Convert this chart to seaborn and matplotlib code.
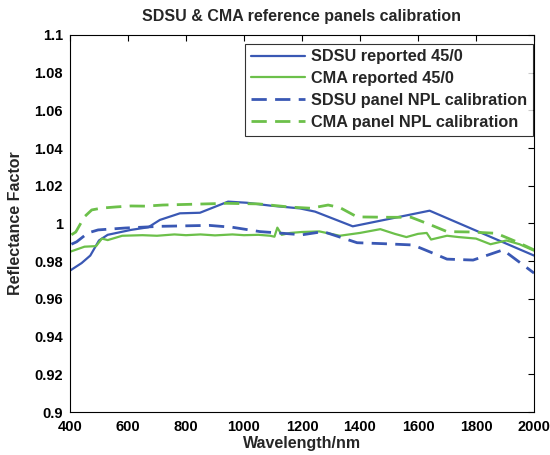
import matplotlib
matplotlib.use("Agg")
import matplotlib.pyplot as plt
import seaborn as sns
import pandas as pd
from matplotlib.ticker import FuncFormatter, MultipleLocator

# ---- data ----
sdsu_rep_wl = [400, 440, 470, 500, 530, 610, 670, 710, 779, 848, 945, 1010, 1090, 1193, 1245, 1375, 1640, 2000]
sdsu_rep_val = [0.975, 0.979, 0.983, 0.991, 0.994, 0.9966, 0.998, 1.0019, 1.0054, 1.0057, 1.0116, 1.011, 1.0095, 1.008, 1.0063, 0.9985, 1.0068, 0.983]

cma_rep_wl = [400, 450, 490, 510, 530, 580, 650, 700, 760, 800, 850, 900, 960, 1000, 1050, 1090, 1105, 1115, 1130,
              1160, 1200, 1260, 1330, 1400, 1470, 1520, 1560, 1600, 1630, 1645, 1700, 1740, 1800, 1850, 1905, 1950, 2000]
cma_rep_val = [0.985, 0.9877, 0.988, 0.992, 0.9912, 0.9935, 0.9938, 0.9935, 0.9942, 0.9938, 0.9942, 0.9937, 0.9942,
               0.9938, 0.994, 0.9935, 0.993, 0.9978, 0.994, 0.995, 0.9955, 0.9958, 0.9935, 0.995, 0.997, 0.9945,
               0.9928, 0.9945, 0.995, 0.9915, 0.9935, 0.9928, 0.992, 0.989, 0.991, 0.989, 0.9856]

sdsu_npl_wl = [405, 423, 462, 497, 590, 710, 880, 960, 1055, 1134, 1200, 1273, 1390, 1480, 1583, 1640, 1700, 1790, 1893, 2000]
sdsu_npl_val = [0.989, 0.9903, 0.995, 0.9966, 0.9976, 0.9985, 0.999, 0.998, 0.9957, 0.9948, 0.994, 0.9957, 0.9898,
                0.9893, 0.9886, 0.985, 0.9811, 0.9806, 0.986, 0.9737]

cma_npl_wl = [405, 420, 450, 475, 510, 560, 610, 660, 720, 820, 940, 1050, 1160, 1230, 1290, 1330, 1390, 1500, 1576,
              1640, 1700, 1780, 1870, 1940, 2000]
cma_npl_val = [0.994, 0.9955, 1.0036, 1.0072, 1.0082, 1.0088, 1.0093, 1.0092, 1.0098, 1.0102, 1.0107, 1.0104, 1.0087,
               1.0081, 1.0098, 1.0085, 1.0035, 1.0033, 1.0033, 0.9995, 0.9957, 0.9955, 0.9948, 0.9903, 0.986]

labels = ["SDSU reported 45/0", "CMA reported 45/0", "SDSU panel NPL calibration", "CMA panel NPL calibration"]
x_ticks = [400, 600, 800, 1000, 1200, 1400, 1600, 1800, 2000]

# ---- style ----
sns.set_style("white")
plt.rcParams["font.family"] = ["Liberation Sans", "DejaVu Sans"]
plt.rcParams["font.weight"] = "bold"

BLUE = "#3a58b4"
GREEN = "#6cc04a"

fig = plt.figure(figsize=(5.5, 4.55), dpi=100)
ax = fig.add_axes([70 / 550, (455 - 412) / 455, (534 - 70) / 550, (412 - 35) / 455])

series = [
    (sdsu_rep_wl, sdsu_rep_val, BLUE, "-", 1.6),
    (cma_rep_wl, cma_rep_val, GREEN, "-", 1.6),
    (sdsu_npl_wl, sdsu_npl_val, BLUE, (0, (5.5, 3)), 2.0),
    (cma_npl_wl, cma_npl_val, GREEN, (0, (5.5, 3)), 2.0),
]
handles = []
for (wl, val, c, ls, lw), lab in zip(series, labels):
    df = pd.DataFrame({"wl": wl, "val": val})
    sns.lineplot(data=df, x="wl", y="val", ax=ax, color=c, linewidth=lw, sort=False, estimator=None)
    ln = ax.lines[-1]
    ln.set_linestyle(ls)
    ln.set_label(lab)
    handles.append(ln)

ax.set_xlim(400, 2000)
ax.set_ylim(0.9, 1.1)
ax.set_xticks(x_ticks)
ax.yaxis.set_major_locator(MultipleLocator(0.02))
ax.yaxis.set_major_formatter(FuncFormatter(lambda v, p: f"{round(v, 2):g}"))
ax.tick_params(direction="in", top=True, right=True, length=4, width=0.8,
               labelsize=10.5, colors="black")
ax.tick_params(axis="x", pad=6)
ax.tick_params(axis="y", pad=5)
for lab in ax.get_xticklabels() + ax.get_yticklabels():
    lab.set_fontweight("bold")
for s in ax.spines.values():
    s.set_color("black")
    s.set_linewidth(0.8)

ax.set_xlabel("Wavelength/nm", fontsize=11.5, fontweight="bold", labelpad=1)
ax.set_ylabel("Reflectance Factor", fontsize=11.5, fontweight="bold", labelpad=8)
ax.set_title("SDSU & CMA reference panels calibration", fontsize=11.5, fontweight="bold", pad=10)

leg = ax.legend(handles=handles, labels=labels, loc="upper right", bbox_to_anchor=(0.998, 0.977),
                frameon=True, fancybox=False, handlelength=3.3, handletextpad=0.4,
                borderpad=0.35, labelspacing=0.42, borderaxespad=0.0, prop={"weight": "bold", "size": 11.7})
leg.get_frame().set_edgecolor("black")
leg.get_frame().set_linewidth(0.8)

fig.savefig("out.png", dpi=100)
